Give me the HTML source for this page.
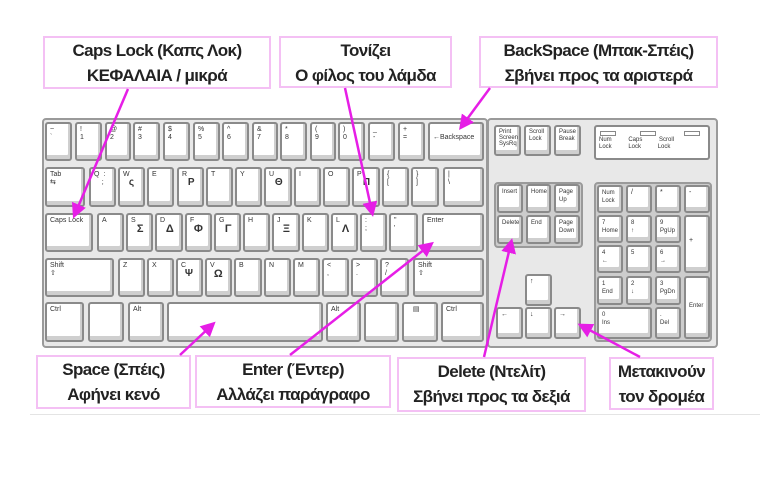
<!DOCTYPE html>
<html><head><meta charset="utf-8"><style>
body{margin:0;width:760px;height:482px;background:#fff;position:relative;overflow:hidden;font-family:"Liberation Sans","DejaVu Sans",sans-serif}
.f{position:absolute;background:#e8e8e8;border:2px solid #9a9a9a;border-radius:4px;box-sizing:border-box}
.k{position:absolute;background:#fff;border:2px solid #8a8a8a;border-radius:3px;box-sizing:border-box;box-shadow:inset -2px -4px 0 #cfcfcf;font-size:7px;line-height:8px;color:#333;padding:2px 3px;white-space:pre}
.b{position:absolute;background:#fff;border:2px solid #f4c0f4;box-sizing:border-box;text-align:center;font-size:17px;letter-spacing:-0.6px;font-weight:bold;color:#222;line-height:25px;padding-top:0px;white-space:nowrap;overflow:hidden}
svg{position:absolute;left:0;top:0}
</style></head><body>
<div class="f" style="left:42px;top:118px;width:446px;height:230px"></div>
<div class="f" style="left:487px;top:118px;width:231px;height:230px"></div>
<!-- row1 -->
<div class="k" style="left:45px;top:122px;width:27px;height:39px">~
`</div>
<div class="k" style="left:75px;top:122px;width:27px;height:39px">!
1</div>
<div class="k" style="left:105px;top:122px;width:26px;height:39px">@
2</div>
<div class="k" style="left:133px;top:122px;width:27px;height:39px">#
3</div>
<div class="k" style="left:163px;top:122px;width:27px;height:39px">$
4</div>
<div class="k" style="left:193px;top:122px;width:27px;height:39px">%
5</div>
<div class="k" style="left:222px;top:122px;width:27px;height:39px">^
6</div>
<div class="k" style="left:252px;top:122px;width:26px;height:39px">&amp;
7</div>
<div class="k" style="left:280px;top:122px;width:27px;height:39px">*
8</div>
<div class="k" style="left:310px;top:122px;width:26px;height:39px">(
9</div>
<div class="k" style="left:338px;top:122px;width:27px;height:39px">)
0</div>
<div class="k" style="left:368px;top:122px;width:27px;height:39px">_
-</div>
<div class="k" style="left:398px;top:122px;width:27px;height:39px">+
=</div>
<div class="k" style="left:428px;top:122px;width:56px;height:39px;padding-top:10px">←Backspace</div>
<!-- row2 -->
<div class="k" style="left:45px;top:167px;width:40px;height:40px">Tab
⇆</div>
<div class="k" style="left:89px;top:167px;width:27px;height:40px">Q  :
    ;</div>
<div class="k" style="left:118px;top:167px;width:27px;height:40px">W
   <b style="font-size:10px">ς</b></div>
<div class="k" style="left:147px;top:167px;width:27px;height:40px">E</div>
<div class="k" style="left:177px;top:167px;width:27px;height:40px">R
   <b style="font-size:10px">Ρ</b></div>
<div class="k" style="left:206px;top:167px;width:27px;height:40px">T</div>
<div class="k" style="left:235px;top:167px;width:27px;height:40px">Y</div>
<div class="k" style="left:264px;top:167px;width:28px;height:40px">U
   <b style="font-size:10px">Θ</b></div>
<div class="k" style="left:294px;top:167px;width:27px;height:40px">I</div>
<div class="k" style="left:323px;top:167px;width:27px;height:40px">O</div>
<div class="k" style="left:352px;top:167px;width:28px;height:40px">P
   <b style="font-size:10px">Π</b></div>
<div class="k" style="left:382px;top:167px;width:27px;height:40px">{
[</div>
<div class="k" style="left:411px;top:167px;width:28px;height:40px">}
]</div>
<div class="k" style="left:443px;top:167px;width:41px;height:40px">|
\</div>
<!-- row3 -->
<div class="k" style="left:45px;top:213px;width:48px;height:39px">Caps Lock</div>
<div class="k" style="left:97px;top:213px;width:27px;height:39px">A</div>
<div class="k" style="left:126px;top:213px;width:27px;height:39px">S
   <b style="font-size:11px">Σ</b></div>
<div class="k" style="left:155px;top:213px;width:28px;height:39px">D
   <b style="font-size:11px">Δ</b></div>
<div class="k" style="left:185px;top:213px;width:27px;height:39px">F
  <b style="font-size:11px">Φ</b></div>
<div class="k" style="left:214px;top:213px;width:27px;height:39px">G
   <b style="font-size:11px">Γ</b></div>
<div class="k" style="left:243px;top:213px;width:27px;height:39px">H</div>
<div class="k" style="left:272px;top:213px;width:28px;height:39px">J
   <b style="font-size:11px">Ξ</b></div>
<div class="k" style="left:302px;top:213px;width:27px;height:39px">K</div>
<div class="k" style="left:331px;top:213px;width:27px;height:39px">L
   <b style="font-size:11px">Λ</b></div>
<div class="k" style="left:360px;top:213px;width:27px;height:39px">:
;</div>
<div class="k" style="left:389px;top:213px;width:29px;height:39px">"
'</div>
<div class="k" style="left:422px;top:213px;width:62px;height:39px">Enter</div>
<!-- row4 -->
<div class="k" style="left:45px;top:258px;width:69px;height:39px">Shift
⇧</div>
<div class="k" style="left:118px;top:258px;width:27px;height:39px">Z</div>
<div class="k" style="left:147px;top:258px;width:27px;height:39px">X</div>
<div class="k" style="left:176px;top:258px;width:27px;height:39px">C
  <b style="font-size:10px">Ψ</b></div>
<div class="k" style="left:205px;top:258px;width:27px;height:39px">V
  <b style="font-size:11px">Ω</b></div>
<div class="k" style="left:234px;top:258px;width:28px;height:39px">B</div>
<div class="k" style="left:264px;top:258px;width:27px;height:39px">N</div>
<div class="k" style="left:293px;top:258px;width:27px;height:39px">M</div>
<div class="k" style="left:322px;top:258px;width:27px;height:39px">&lt;
,</div>
<div class="k" style="left:351px;top:258px;width:27px;height:39px">&gt;
.</div>
<div class="k" style="left:380px;top:258px;width:29px;height:39px">?
/</div>
<div class="k" style="left:413px;top:258px;width:71px;height:39px">Shift
⇧</div>
<!-- row5 -->
<div class="k" style="left:45px;top:302px;width:39px;height:40px">Ctrl</div>
<div class="k" style="left:88px;top:302px;width:36px;height:40px"></div>
<div class="k" style="left:128px;top:302px;width:36px;height:40px">Alt</div>
<div class="k" style="left:167px;top:302px;width:156px;height:40px"></div>
<div class="k" style="left:326px;top:302px;width:35px;height:40px">Alt</div>
<div class="k" style="left:364px;top:302px;width:35px;height:40px"></div>
<div class="k" style="left:402px;top:302px;width:36px;height:40px">   ▤</div>
<div class="k" style="left:441px;top:302px;width:43px;height:40px">Ctrl</div>
<!-- right block -->
<div class="k" style="left:494px;top:125px;width:27px;height:31px;font-size:6px;line-height:6px">Print
Screen
SysRq</div>
<div class="k" style="left:524px;top:125px;width:27px;height:31px;font-size:6px;line-height:7px">Scroll
Lock</div>
<div class="k" style="left:554px;top:125px;width:27px;height:31px;font-size:6px;line-height:7px">Pause
Break</div>
<div class="k" style="left:594px;top:125px;width:116px;height:35px;box-shadow:none;font-size:6px;line-height:7px;padding-top:10px">Num          Caps          Scroll
Lock          Lock          Lock</div>
<div style="position:absolute;left:600px;top:131px;width:14px;height:3px;border:1px solid #888"></div>
<div style="position:absolute;left:640px;top:131px;width:14px;height:3px;border:1px solid #888"></div>
<div style="position:absolute;left:684px;top:131px;width:14px;height:3px;border:1px solid #888"></div>
<div class="f" style="left:494px;top:182px;width:89px;height:66px;background:#ccc"></div>
<div class="k" style="left:497px;top:184px;width:26px;height:29px;font-size:6px">Insert</div>
<div class="k" style="left:526px;top:184px;width:25px;height:29px;font-size:6px">Home</div>
<div class="k" style="left:554px;top:184px;width:26px;height:29px;font-size:6px">Page
Up</div>
<div class="k" style="left:497px;top:215px;width:26px;height:29px;font-size:6px">Delete</div>
<div class="k" style="left:526px;top:215px;width:25px;height:29px;font-size:6px">End</div>
<div class="k" style="left:554px;top:215px;width:26px;height:29px;font-size:6px">Page
Down</div>
<div class="k" style="left:525px;top:274px;width:27px;height:32px">↑</div>
<div class="k" style="left:496px;top:307px;width:27px;height:32px">←</div>
<div class="k" style="left:525px;top:307px;width:27px;height:32px">↓</div>
<div class="k" style="left:554px;top:307px;width:27px;height:32px">→</div>
<div class="f" style="left:594px;top:182px;width:118px;height:160px;background:#ccc"></div>
<div class="k" style="left:597px;top:185px;width:26px;height:28px;font-size:6px">Num
Lock</div>
<div class="k" style="left:626px;top:185px;width:26px;height:28px">/</div>
<div class="k" style="left:655px;top:185px;width:26px;height:28px">*</div>
<div class="k" style="left:684px;top:185px;width:26px;height:28px">-</div>
<div class="k" style="left:597px;top:215px;width:26px;height:28px;font-size:6px">7
Home</div>
<div class="k" style="left:626px;top:215px;width:26px;height:28px;font-size:6px">8
↑</div>
<div class="k" style="left:655px;top:215px;width:26px;height:28px;font-size:6px">9
PgUp</div>
<div class="k" style="left:684px;top:215px;width:26px;height:58px;padding-top:20px">+</div>
<div class="k" style="left:597px;top:245px;width:26px;height:28px;font-size:6px">4
←</div>
<div class="k" style="left:626px;top:245px;width:26px;height:28px;font-size:6px">5</div>
<div class="k" style="left:655px;top:245px;width:26px;height:28px;font-size:6px">6
→</div>
<div class="k" style="left:597px;top:276px;width:26px;height:29px;font-size:6px">1
End</div>
<div class="k" style="left:626px;top:276px;width:26px;height:29px;font-size:6px">2
↓</div>
<div class="k" style="left:655px;top:276px;width:26px;height:29px;font-size:6px">3
PgDn</div>
<div class="k" style="left:684px;top:276px;width:26px;height:63px;font-size:6px;padding-top:24px">Enter</div>
<div class="k" style="left:597px;top:307px;width:55px;height:32px;font-size:6px">0
Ins</div>
<div class="k" style="left:655px;top:307px;width:26px;height:32px;font-size:6px">.
Del</div>
<!-- boxes -->
<div class="b" style="left:43px;top:36px;width:228px;height:53px">Caps Lock (Καπς Λοκ)<br>ΚΕΦΑΛΑΙΑ / μικρά</div>
<div class="b" style="left:279px;top:36px;width:173px;height:52px">Τονίζει<br>Ο φίλος του λάμδα</div>
<div class="b" style="left:479px;top:36px;width:239px;height:52px">BackSpace (Μπακ-Σπέις)<br>Σβήνει προς τα αριστερά</div>
<div class="b" style="left:36px;top:355px;width:155px;height:54px">Space (Σπέις)<br>Αφήνει κενό</div>
<div class="b" style="left:195px;top:355px;width:196px;height:53px">Enter (Έντερ)<br>Αλλάζει παράγραφο</div>
<div class="b" style="left:397px;top:357px;width:189px;height:55px">Delete (Ντελίτ)<br>Σβήνει προς τα δεξιά</div>
<div class="b" style="left:609px;top:357px;width:105px;height:53px">Μετακινούν<br>τον δρομέα</div>
<div style="position:absolute;left:30px;top:414px;width:730px;height:1px;background:#e4e4e4"></div>
<svg width="760" height="482">
<defs><marker id="a" markerWidth="6" markerHeight="6" refX="4" refY="3" orient="auto" markerUnits="strokeWidth"><path d="M0,0 L6,3 L0,6 z" fill="#e61ee6"/></marker></defs>
<g stroke="#e61ee6" stroke-width="2.5" fill="none" marker-end="url(#a)">
<line x1="128" y1="89" x2="75" y2="214"/>
<line x1="345" y1="88" x2="372" y2="212"/>
<line x1="490" y1="88" x2="462" y2="126"/>
<line x1="180" y1="355" x2="212" y2="325"/>
<line x1="290" y1="355" x2="430" y2="245"/>
<line x1="484" y1="357" x2="511" y2="243"/>
<line x1="640" y1="357" x2="582" y2="326"/>
</g></svg>
</body></html>
